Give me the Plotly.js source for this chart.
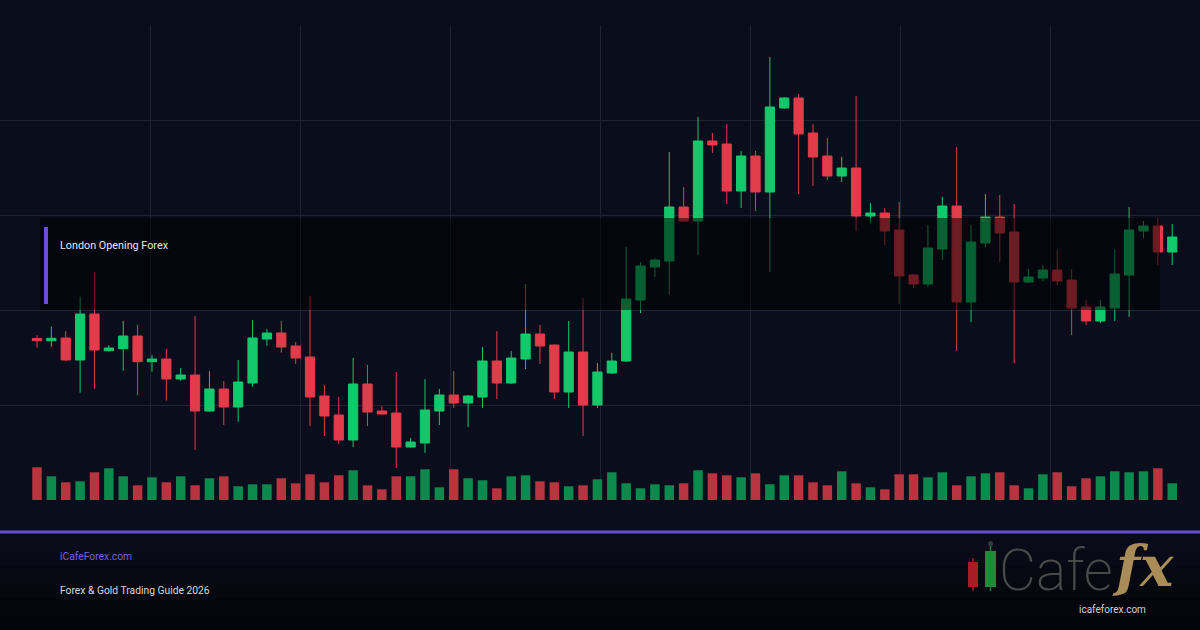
<!DOCTYPE html>
<html>
<head>
<meta charset="utf-8">
<script src="https://cdn.plot.ly/plotly-3.0.1.min.js"></script>
<style>
html,body{margin:0;padding:0;background:#0a0e1c;}
#chart{width:1200px;height:630px;}
</style>
</head>
<body>
<div id="chart"></div>
<script>
// ---- data (gold-like price series, 80 sessions) ----
const openP = [2016.15,2015.93,2016.2,2014.0,2018.6,2014.93,2015.13,2016.4,2013.83,2014.1,
  2012.1,2012.5,2008.9,2011.1,2009.3,2011.7,2016.1,2016.7,2015.4,2014.3,
  2010.4,2008.5,2006.0,2011.6,2008.9,2008.7,2005.3,2005.7,2008.9,2010.5,
  2009.7,2010.3,2013.9,2011.7,2014.1,2016.6,2015.5,2010.8,2014.8,2009.5,
  2012.7,2013.9,2020.0,2023.3,2023.9,2029.3,2027.9,2035.9,2035.6,2030.9,
  2034.4,2030.8,2039.2,2040.2,2036.7,2034.4,2032.4,2033.2,2028.4,2028.7,
  2027.0,2022.5,2021.6,2025.1,2029.4,2019.8,2025.7,2028.3,2026.8,2021.8,
  2022.2,2023.0,2022.0,2019.3,2017.9,2019.2,2022.5,2026.9,2027.4,2024.8];
const highP = [2016.5,2017.33,2016.9,2020.33,2022.8,2015.47,2017.9,2017.5,2014.5,2015.1,
  2013.2,2018.4,2012.9,2011.9,2014.0,2018.0,2017.1,2017.9,2015.8,2020.4,
  2011.5,2010.3,2014.2,2013.5,2009.4,2012.8,2006.2,2012.1,2011.1,2012.9,
  2010.5,2015.3,2016.9,2014.9,2021.6,2017.5,2015.55,2017.9,2020.2,2013.7,
  2014.7,2025.3,2023.8,2024.2,2034.8,2031.3,2038.3,2036.7,2037.6,2034.9,
  2034.9,2044.3,2040.3,2040.6,2037.6,2036.2,2034.3,2040.4,2029.7,2029.2,
  2029.8,2022.6,2027.5,2030.3,2035.3,2027.5,2030.6,2030.5,2029.6,2023.1,
  2023.5,2025.0,2023.1,2020.0,2020.0,2025.1,2029.3,2027.9,2028.2,2027.6];
const lowP = [2015.23,2015.33,2013.9,2010.73,2011.13,2014.85,2012.93,2010.5,2012.83,2009.93,
  2011.93,2005.0,2008.8,2007.5,2007.83,2011.33,2015.43,2014.73,2013.6,2007.4,
  2006.4,2005.6,2005.3,2007.4,2008.55,2003.2,2005.25,2004.7,2007.5,2009.2,
  2007.3,2009.2,2010.1,2011.6,2013.1,2013.6,2010.1,2009.2,2006.4,2009.2,
  2012.6,2013.8,2018.7,2022.3,2020.5,2027.85,2024.5,2034.7,2029.6,2029.2,
  2028.9,2022.8,2039.1,2030.6,2031.4,2032.0,2031.8,2026.9,2027.7,2025.5,
  2019.6,2021.2,2021.3,2024.0,2014.9,2017.8,2025.3,2023.8,2013.7,2021.7,
  2021.9,2021.5,2016.5,2017.5,2017.7,2017.9,2018.3,2026.2,2023.5,2023.5];
const closeP = [2015.93,2016.17,2014.0,2018.6,2015.0,2015.2,2016.4,2013.83,2014.1,2012.1,
  2012.5,2008.9,2011.1,2009.3,2011.8,2016.2,2016.7,2015.3,2014.2,2010.3,
  2008.4,2006.0,2011.6,2008.8,2008.6,2005.3,2005.8,2009.0,2010.5,2009.7,
  2010.4,2013.9,2011.7,2014.2,2016.6,2015.4,2010.8,2014.8,2009.5,2012.8,
  2013.9,2020.1,2023.4,2024.0,2029.3,2027.9,2035.9,2035.5,2030.9,2034.4,
  2030.8,2039.3,2040.2,2036.6,2034.3,2032.4,2033.2,2028.4,2028.7,2026.9,
  2022.4,2021.6,2025.2,2029.4,2019.8,2025.8,2028.3,2026.7,2021.8,2022.3,
  2023.0,2021.9,2019.2,2017.9,2019.3,2022.6,2027.0,2027.4,2024.8,2026.3];
const volume = [3270,2370,1770,1870,2770,3170,2370,1470,2270,1770,
  2370,1470,2170,2370,1370,1570,1570,2170,1670,2570,
  1770,2470,2970,1470,1070,2370,2370,3070,1270,3070,
  2170,1970,1170,2370,2470,1870,1770,1370,1470,2070,
  2770,1670,1170,1570,1470,1670,2970,2670,2470,2270,
  2670,1570,2470,2470,1770,1470,2870,1670,1270,1070,
  2570,2570,2270,2770,1470,2370,2670,2770,1470,1170,
  2570,2770,1370,2170,2370,2870,2770,2870,3170,1670];
const sessionLabel = "London Opening Forex";
const siteName = "iCafeForex.com";
const guideTitle = "Forex & Gold Trading Guide 2026";
const logoUrl = "icafeforex.com";

// ---- styling ----
const BG = "#0a0e1c";
const UP = "#12c86a", DOWN = "#e23b4a";
const VUP = "#0c8a4d", VDOWN = "#b8343f";
const GRID = "#1e2435";
const PURPLE = "#6b4fd3";

const idx = openP.map((_, i) => i);
const volColors = closeP.map((c, i) => c >= openP[i] ? VUP : VDOWN);

// pixel helpers for decorative layout (plot area: x 0..1200, y 25..500)
const px = X => X / 1200;
const py = Y => (500 - Y) / 475;

const traces = [
  {
    type: "bar", x: idx, y: volume, yaxis: "y2",
    marker: {color: volColors, line: {width: 0}},
    hoverinfo: "skip", showlegend: false
  },
  {
    type: "candlestick", x: idx, open: openP, high: highP, low: lowP, close: closeP,
    increasing: {line: {color: UP, width: 1}, fillcolor: UP},
    decreasing: {line: {color: DOWN, width: 1}, fillcolor: DOWN},
    whiskerwidth: 0, showlegend: false, hoverinfo: "skip"
  }
];

const shapes = [];
// footer gradient (darker below purple line)
const footerSteps = ["#090c18","#080a15","#070912","#06080f","#05060d","#04050a"];
const fTop = 534, fBot = 630, fh = (fBot - fTop) / footerSteps.length;
footerSteps.forEach((c, k) => {
  shapes.push({type: "rect", xref: "paper", yref: "paper", layer: "below",
    x0: 0, x1: 1, y0: py(fTop + k * fh), y1: py(fTop + (k + 1) * fh + 0.5),
    fillcolor: c, line: {width: 0}});
});
// session overlay band
shapes.push({type: "rect", xref: "paper", yref: "paper", layer: "above",
  x0: px(40), x1: px(1160), y0: py(310), y1: py(218),
  fillcolor: "rgba(0,0,0,0.52)", line: {width: 0}});
// purple marker bar
shapes.push({type: "rect", xref: "paper", yref: "paper", layer: "above",
  x0: px(44), x1: px(48), y0: py(304), y1: py(227),
  fillcolor: PURPLE, line: {width: 0}});
// purple divider line
shapes.push({type: "line", xref: "paper", yref: "paper", layer: "above",
  x0: 0, x1: 1, y0: py(532), y1: py(532), line: {color: PURPLE, width: 3}});
// logo candles
shapes.push({type: "line", xref: "paper", yref: "paper", x0: px(973), x1: px(973), y0: py(558), y1: py(591), line: {color: "#9a1c22", width: 1.5}});
shapes.push({type: "rect", xref: "paper", yref: "paper", x0: px(968), x1: px(978), y0: py(587), y1: py(562), fillcolor: "#a81c24", line: {width: 0}});
shapes.push({type: "line", xref: "paper", yref: "paper", x0: px(990.5), x1: px(990.5), y0: py(544), y1: py(591), line: {color: "#2a7a3c", width: 1.5}});
shapes.push({type: "circle", xref: "paper", yref: "paper", x0: px(988), x1: px(993), y0: py(546), y1: py(541), fillcolor: "#3a3a3a", line: {width: 0}});
shapes.push({type: "rect", xref: "paper", yref: "paper", x0: px(985), x1: px(996), y0: py(587), y1: py(551), fillcolor: "#1f8a3a", line: {width: 0}});

const annotations = [
  {text: sessionLabel, xref: "paper", yref: "paper", x: px(59), y: py(245),
   xanchor: "left", yanchor: "middle", showarrow: false, borderpad: 0,
   font: {family: "Roboto, Inter, sans-serif", size: 10.8, color: "#e4e6ec"}},
  {text: siteName, xref: "paper", yref: "paper", x: px(59), y: py(556),
   xanchor: "left", yanchor: "middle", showarrow: false, borderpad: 0,
   font: {family: "Roboto, Inter, sans-serif", size: 10.3, color: "#7b5de6"}},
  {text: guideTitle, xref: "paper", yref: "paper", x: px(59), y: py(590),
   xanchor: "left", yanchor: "middle", showarrow: false, borderpad: 0,
   font: {family: "Roboto, Inter, sans-serif", size: 10.3, color: "#d6d8de"}},
  {text: "Cafe", xref: "paper", yref: "paper", x: px(998), y: py(570),
   xanchor: "left", yanchor: "middle", showarrow: false, borderpad: 0,
   font: {family: "Roboto, 'Open Sans', sans-serif", size: 57, weight: 200, color: "#4a4a4c"}},
  {text: "fx", xref: "paper", yref: "paper", x: px(1143), y: py(600),
   xanchor: "center", yanchor: "bottom", showarrow: false, borderpad: 0,
   font: {family: "'DejaVu Serif', 'Liberation Serif', serif", size: 56, weight: "bold", style: "italic", color: "#a98c57"}},
  {text: logoUrl, xref: "paper", yref: "paper", x: px(1112), y: py(609),
   xanchor: "center", yanchor: "middle", showarrow: false, borderpad: 0,
   font: {family: "Roboto, Inter, sans-serif", size: 10, color: "#cfd0d4"}}
];

const s = 14.37, c0 = 37;
const layout = {
  width: 1200, height: 630,
  margin: {l: 0, r: 0, t: 25, b: 130, pad: 0},
  paper_bgcolor: BG, plot_bgcolor: BG,
  showlegend: false,
  boxgap: 0.08,
  bargap: 0.34,
  xaxis: {
    range: [-c0 / s, (1200 - c0) / s],
    tickmode: "linear", tick0: (150 - c0) / s, dtick: 150 / s,
    showgrid: true, gridcolor: GRID, gridwidth: 1,
    showticklabels: false, ticks: "", zeroline: false,
    showline: false, rangeslider: {visible: false}, fixedrange: true
  },
  yaxis: {
    range: [2000, 2047.5],
    tickmode: "linear", tick0: 2000, dtick: 9.5,
    showgrid: true, gridcolor: GRID, gridwidth: 1,
    showticklabels: false, ticks: "", zeroline: false, showline: false, fixedrange: true
  },
  yaxis2: {
    overlaying: "y", range: [0, 47500], visible: false, showgrid: false, fixedrange: true
  },
  shapes: shapes,
  annotations: annotations
};

Plotly.newPlot("chart", traces, layout, {displayModeBar: false, staticPlot: true});
</script>
</body>
</html>
